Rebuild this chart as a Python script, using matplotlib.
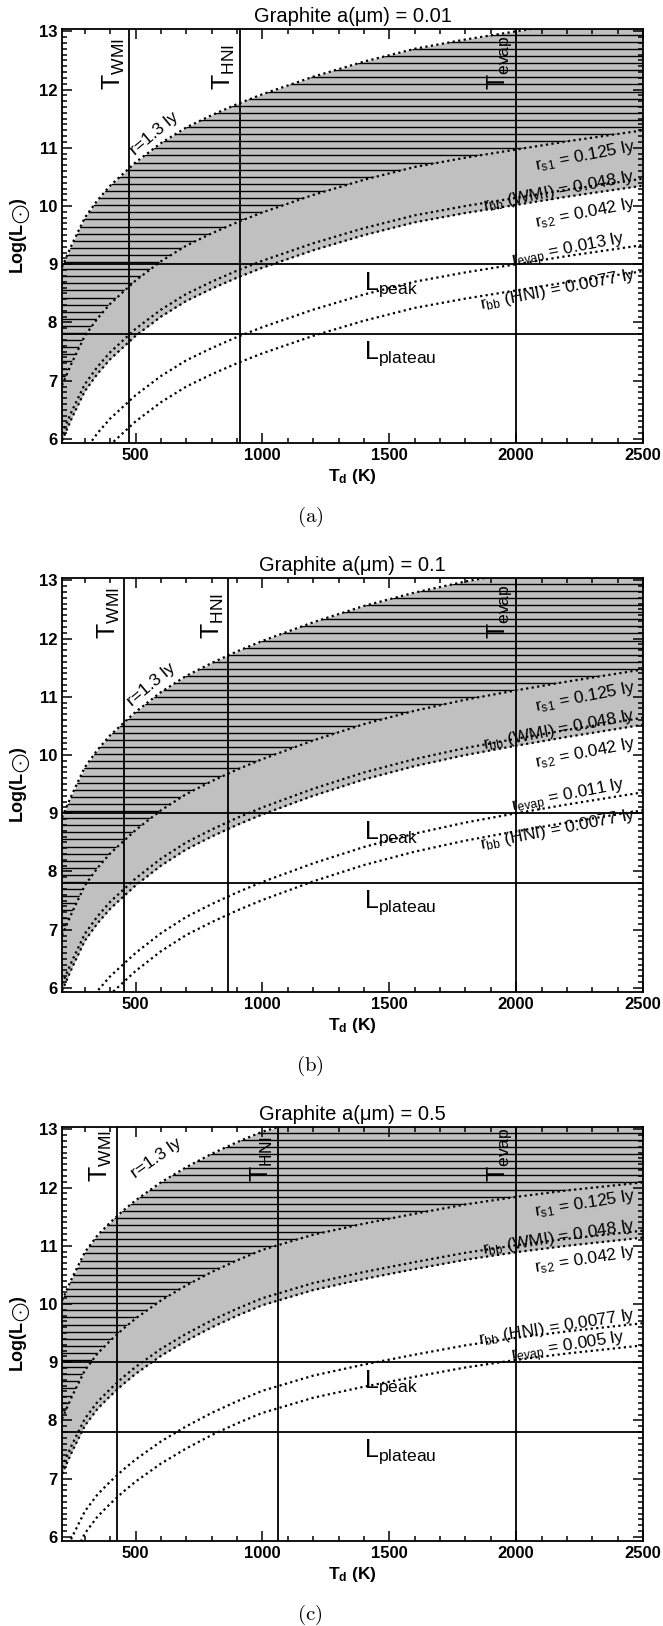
import numpy as np
import matplotlib
matplotlib.use('Agg')
import matplotlib.pyplot as plt
from matplotlib.ticker import MultipleLocator

plt.rcParams['font.family'] = ['Liberation Sans', 'DejaVu Sans']
plt.rcParams['mathtext.fontset'] = 'custom'
plt.rcParams['mathtext.rm'] = 'Liberation Sans'
plt.rcParams['mathtext.it'] = 'Liberation Sans:italic'
plt.rcParams['mathtext.bf'] = 'Liberation Sans:bold'

# температура пыли (K), общая сетка для всех панелей
T = np.array([210, 250, 300, 350, 400, 450, 500, 600, 700, 800, 900, 1000,
              1200, 1400, 1600, 1800, 2000, 2200, 2500])

# панель (a): a = 0.01 мкм, log(L) для каждого радиуса
r13_a = [8.95, 9.35, 9.80, 10.10, 10.35, 10.55, 10.75, 11.08, 11.35, 11.56, 11.75, 11.92, 12.22, 12.48, 12.70, 12.86, 13.00, 13.14, 13.33]
rs1_a = [6.92, 7.32, 7.77, 8.07, 8.32, 8.52, 8.72, 9.05, 9.32, 9.53, 9.72, 9.89, 10.19, 10.45, 10.67, 10.83, 10.97, 11.11, 11.30]
rbbW_a = [6.09, 6.49, 6.94, 7.24, 7.49, 7.69, 7.89, 8.22, 8.49, 8.70, 8.89, 9.06, 9.36, 9.62, 9.84, 10.00, 10.14, 10.28, 10.47]
rs2_a = [5.97, 6.37, 6.82, 7.12, 7.37, 7.57, 7.77, 8.10, 8.37, 8.58, 8.77, 8.94, 9.24, 9.50, 9.72, 9.88, 10.02, 10.16, 10.35]
revap_a = [4.95, 5.35, 5.80, 6.10, 6.35, 6.55, 6.75, 7.08, 7.35, 7.56, 7.75, 7.92, 8.22, 8.48, 8.70, 8.86, 9.00, 9.14, 9.33]
rbbH_a = [4.50, 4.90, 5.35, 5.65, 5.90, 6.10, 6.30, 6.63, 6.90, 7.11, 7.30, 7.47, 7.77, 8.03, 8.25, 8.41, 8.55, 8.69, 8.88]
tlines_a = [475, 910, 2000]

# панель (b): a = 0.1 мкм
r13_b = [8.93, 9.33, 9.79, 10.09, 10.34, 10.54, 10.74, 11.08, 11.36, 11.58, 11.78, 11.96, 12.28, 12.56, 12.79, 12.98, 13.14, 13.29, 13.50]
rs1_b = [6.90, 7.30, 7.76, 8.06, 8.31, 8.51, 8.71, 9.05, 9.33, 9.55, 9.75, 9.93, 10.25, 10.53, 10.76, 10.95, 11.11, 11.26, 11.47]
rbbW_b = [6.07, 6.47, 6.93, 7.23, 7.48, 7.68, 7.88, 8.22, 8.50, 8.72, 8.92, 9.10, 9.42, 9.70, 9.93, 10.12, 10.28, 10.43, 10.64]
rs2_b = [5.95, 6.35, 6.81, 7.11, 7.36, 7.56, 7.76, 8.10, 8.38, 8.60, 8.80, 8.98, 9.30, 9.58, 9.81, 10.00, 10.16, 10.31, 10.52]
revap_b = [4.79, 5.19, 5.65, 5.95, 6.20, 6.40, 6.60, 6.94, 7.22, 7.44, 7.64, 7.82, 8.14, 8.42, 8.65, 8.84, 9.00, 9.15, 9.36]
rbbH_b = [4.48, 4.88, 5.34, 5.64, 5.89, 6.09, 6.29, 6.63, 6.91, 7.13, 7.33, 7.51, 7.83, 8.11, 8.34, 8.53, 8.69, 8.84, 9.05]
tlines_b = [455, 865, 2000]

# панель (c): a = 0.5 мкм
r13_c = [10.06, 10.45, 10.89, 11.18, 11.40, 11.60, 11.78, 12.09, 12.35, 12.58, 12.78, 12.96, 13.22, 13.41, 13.58, 13.74, 13.87, 13.98, 14.12]
rs1_c = [8.03, 8.42, 8.86, 9.15, 9.37, 9.57, 9.75, 10.06, 10.32, 10.55, 10.75, 10.93, 11.19, 11.38, 11.55, 11.71, 11.84, 11.95, 12.09]
rbbW_c = [7.20, 7.59, 8.03, 8.32, 8.54, 8.74, 8.92, 9.23, 9.49, 9.72, 9.92, 10.10, 10.36, 10.55, 10.72, 10.88, 11.01, 11.12, 11.26]
rs2_c = [7.08, 7.47, 7.91, 8.20, 8.42, 8.62, 8.80, 9.11, 9.37, 9.60, 9.80, 9.98, 10.24, 10.43, 10.60, 10.76, 10.89, 11.00, 11.14]
rbbH_c = [5.61, 6.00, 6.44, 6.73, 6.95, 7.15, 7.33, 7.64, 7.90, 8.13, 8.33, 8.51, 8.77, 8.96, 9.13, 9.29, 9.42, 9.53, 9.67]
revap_c = [5.23, 5.62, 6.06, 6.35, 6.57, 6.77, 6.95, 7.26, 7.52, 7.75, 7.95, 8.13, 8.39, 8.58, 8.75, 8.91, 9.04, 9.15, 9.29]
tlines_c = [425, 1060, 2000]

L_peak = 9.0
L_plateau = 7.8

W, H = 663, 1626
fig = plt.figure(figsize=(W / 100, H / 100), dpi=100)

dot = dict(color='k', linestyle=(0, (1, 1.5)), linewidth=1.6, dash_capstyle='butt')


def draw_panel(top_px, title, curves, tlines, tlab_y, labels, r13_pos, panel):
    r13, rs1, rbbW, rs2, revap, rbbH = [np.array(c) for c in curves]
    ax = fig.add_axes([62 / W, 1 - (top_px + 414) / H, 581 / W, 414 / H])

    # серая область и штриховка
    ax.fill_between(T, rs2, r13, color='#c0c0c0', linewidth=0)
    poly = ax.fill(np.r_[T, T[::-1]], np.r_[rs1, r13[::-1]],
                   facecolor='none', edgecolor='none')[0]
    hl = ax.hlines(np.arange(5.5, 14.5, 0.122), 200, 2500, colors='k', linewidth=1.0)
    hl.set_clip_path(poly)

    for c in (r13, rs1, rbbW, rs2, revap, rbbH):
        ax.plot(T, c, **dot)

    for t in tlines:
        ax.axvline(t, color='k', linewidth=1.3)
    ax.axhline(L_peak, color='k', linewidth=1.3)
    ax.axhline(L_plateau, color='k', linewidth=1.3)

    # подписи температур
    names = [r'T$_{\rm WMI}$', r'T$_{\rm HNI}$', r'T$_{\rm evap}$']
    for t, name in zip(tlines, names):
        ax.text(t - 10, tlab_y, name, rotation=90, ha='right', va='bottom', fontsize=18)

    ax.text(1400, L_peak - 0.35, r'L$_{\rm peak}$', fontsize=18, ha='left', va='center')
    ax.text(1400, L_plateau - 0.33, r'L$_{\rm plateau}$', fontsize=18, ha='left', va='center')

    ax.text(r13_pos[0], r13_pos[1], 'r=1.3 ly', rotation=r13_pos[2], fontsize=12.5,
            ha='center', va='center', rotation_mode='anchor')
    for s, x, y, rot in labels:
        ax.text(x, y, s, rotation=rot, fontsize=12.5, ha='right', va='center',
                rotation_mode='anchor')

    ax.set_xlim(210, 2500)
    ax.set_ylim(5.93, 13.04)
    ax.set_xticks([500, 1000, 1500, 2000, 2500])
    ax.set_yticks(range(6, 14))
    ax.xaxis.set_minor_locator(MultipleLocator(100))
    ax.yaxis.set_minor_locator(MultipleLocator(0.1))
    ax.tick_params(which='both', direction='in', top=True, right=True, width=1.1,
                   labelsize=12)
    ax.tick_params(which='major', length=7)
    ax.tick_params(which='minor', length=3.5)
    for lab in ax.get_xticklabels() + ax.get_yticklabels():
        lab.set_fontweight('bold')
    for sp in ax.spines.values():
        sp.set_linewidth(1.3)

    ax.set_title(title, fontsize=14.5, pad=5)
    ax.set_xlabel(r'$\mathbf{T_{d}}$ $\mathbf{(K)}$', fontsize=12.5, labelpad=3)
    ax.set_ylabel(r'$\mathbf{Log(L}_{\bigodot}\mathbf{)}$', fontsize=13, labelpad=4)

    fig.text(310 / W, 1 - (top_px + 488) / H, r'$\mathrm{(' + panel + ')}$',
             math_fontfamily='cm', fontsize=15, ha='center', va='center')
    return ax


# (a)
labels_a = [(r'r$_{\rm s1}$ = 0.125 ly', 2470, 11.02, 11),
            (r'r$_{\rm bb}$ (WMI) = 0.048 ly', 2470, 10.52, 11),
            (r'r$_{\rm s2}$ = 0.042 ly', 2470, 10.05, 11),
            (r'r$_{\rm evap}$ = 0.013 ly', 2430, 9.42, 11),
            (r'r$_{\rm bb}$ (HNI) = 0.0077 ly', 2470, 8.82, 11)]
draw_panel(29, 'Graphite a(μm) = 0.01',
           [r13_a, rs1_a, rbbW_a, rs2_a, revap_a, rbbH_a],
           tlines_a, 12.0, labels_a, (575, 11.25, 40), 'a')

# (b)
labels_b = [(r'r$_{\rm s1}$ = 0.125 ly', 2470, 11.17, 11),
            (r'r$_{\rm bb}$ (WMI) = 0.048 ly', 2470, 10.68, 11),
            (r'r$_{\rm s2}$ = 0.042 ly', 2470, 10.2, 11),
            (r'r$_{\rm evap}$ = 0.011 ly', 2430, 9.47, 11),
            (r'r$_{\rm bb}$ (HNI) = 0.0077 ly', 2470, 8.98, 11)]
draw_panel(578, 'Graphite a(μm) = 0.1',
           [r13_b, rs1_b, rbbW_b, rs2_b, revap_b, rbbH_b],
           tlines_b, 12.0, labels_b, (560, 11.2, 40), 'b')

# (c)
labels_c = [(r'r$_{\rm s1}$ = 0.125 ly', 2470, 11.86, 9),
            (r'r$_{\rm bb}$ (WMI) = 0.048 ly', 2470, 11.35, 9),
            (r'r$_{\rm s2}$ = 0.042 ly', 2470, 10.9, 9),
            (r'r$_{\rm bb}$ (HNI) = 0.0077 ly', 2470, 9.82, 9),
            (r'r$_{\rm evap}$ = 0.005 ly', 2430, 9.4, 9)]
draw_panel(1127, 'Graphite a(μm) = 0.5',
           [r13_c, rs1_c, rbbW_c, rs2_c, revap_c, rbbH_c],
           tlines_c, 12.1, labels_c, (580, 12.5, 35), 'c')

fig.savefig('out.png', dpi=100)
